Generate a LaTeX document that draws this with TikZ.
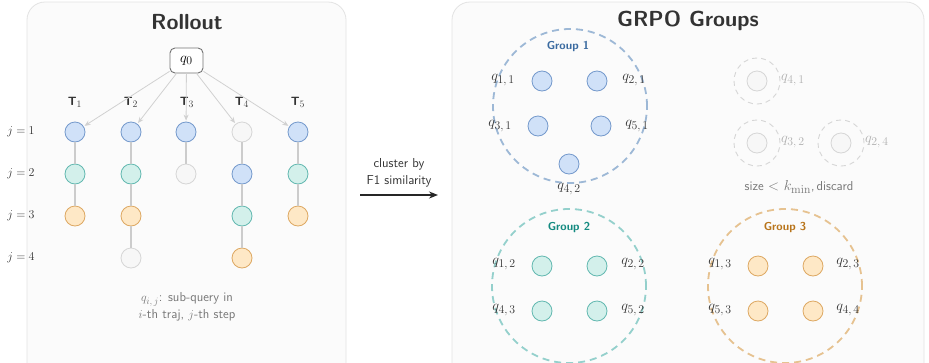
\documentclass[tikz,border=0pt]{standalone}
\usetikzlibrary{arrows.meta}
\definecolor{bluef}{HTML}{D0E1F8}\definecolor{bluel}{HTML}{7499CC}
\definecolor{tealf}{HTML}{D3F0EB}\definecolor{teall}{HTML}{62B8B0}
\definecolor{orf}{HTML}{FEE8C6}\definecolor{orl}{HTML}{DDA862}
\definecolor{grf}{HTML}{F7F7F7}\definecolor{grl}{HTML}{D6D6D6}
\definecolor{panelf}{HTML}{FBFBFB}\definecolor{panell}{HTML}{E3E3E3}
\definecolor{gonec}{HTML}{9DB8D6}\definecolor{gonet}{HTML}{3A6AA0}
\definecolor{gtwoc}{HTML}{94D0CC}\definecolor{gtwot}{HTML}{138A80}
\definecolor{gthreec}{HTML}{E6C290}\definecolor{gthreet}{HTML}{B8741A}
\definecolor{txt}{HTML}{333333}\definecolor{soft}{HTML}{777777}
\definecolor{conn}{HTML}{CCCCCC}\definecolor{ghost}{HTML}{B0B0B0}
\newcommand{\bsub}[2]{#1_{\mbox{\scalebox{0.82}{$#2$}}}}
\tikzset{
  sq/.style={circle,minimum size=20pt,inner sep=0pt,line width=0.8pt},
  bq/.style={sq,fill=bluef,draw=bluel},
  tq/.style={sq,fill=tealf,draw=teall},
  oq/.style={sq,fill=orf,draw=orl},
  gq/.style={sq,fill=grf,draw=grl},
  panel/.style={draw=panell,fill=panelf,rounded corners=18pt,line width=0.8pt},
  ttl/.style={font=\sffamily\bfseries\fontsize{21.8}{26}\selectfont,text=txt},
  qlab/.style={font=\fontsize{14.5}{16}\selectfont,text=txt,inner sep=1pt},
  glab/.style={font=\fontsize{14.5}{16}\selectfont,text=ghost,inner sep=1pt},
  jlab/.style={font=\fontsize{12}{14}\selectfont,text=txt},
  tlab/.style={font=\sffamily\bfseries\fontsize{12}{14}\selectfont,text=txt},
  vline/.style={draw=conn,line width=1.1pt},
  farrow/.style={draw=conn!90!white,line width=0.8pt,-{Stealth[length=6pt,width=5pt]}},
  grp/.style={circle,line width=1.8pt,minimum size=154pt,inner sep=0pt,dash pattern=on 7pt off 5pt},
  gname/.style={font=\sffamily\bfseries\fontsize{11.5}{13}\selectfont},
  small/.style={font=\sffamily\fontsize{13}{16.5}\selectfont,align=center},
  lone/.style={circle,draw=grl,line width=0.9pt,minimum size=46pt,inner sep=0pt,dash pattern=on 5pt off 4pt},
}
\begin{document}
\begin{tikzpicture}[x=1pt,y=-1pt]
\clip (0,0) rectangle (929,362);
\fill[white] (0,0) rectangle (929,362);
% panels
\draw[panel] (27,2) rectangle (346,420);
\draw[panel] (452,2) rectangle (924,420);
\node[ttl] (tr) at (187,22) {Rollout};
\node[ttl] (tg) at (688,21) {GRPO Groups};
% q0
\node[draw=black!55,line width=0.9pt,rounded corners=5pt,fill=white,minimum width=33pt,minimum height=25pt,inner sep=0pt,font=\fontsize{15}{16}\selectfont] (q0) at (186.5,60.5) {$\bsub{q}{0}$};
% trajectory labels
\foreach \i/\x in {1/75,2/131,3/187,4/242,5/298}{
  \node[tlab] (T\i) at (\x,102) {T$\bsub{}{\i}$};
}
\foreach \k/\y in {1/132,2/174,3/216,4/258}{
  \node[jlab] (j\k) at (21,\y) {$j=\k$};
}
% column 1
\node[bq] (a1) at (75,132) {};
\node[tq] (a2) at (75,174) {};
\node[oq] (a3) at (75,216) {};
% column 2
\node[bq] (b1) at (131,132) {};
\node[tq] (b2) at (131,174) {};
\node[oq] (b3) at (131,216) {};
\node[gq] (b4) at (131,258) {};
% column 3
\node[bq] (c1) at (186,132) {};
\node[gq] (c2) at (186,174) {};
% column 4
\node[gq] (d1) at (242,132) {};
\node[bq] (d2) at (242,174) {};
\node[tq] (d3) at (242,216) {};
\node[oq] (d4) at (242,258) {};
% column 5
\node[bq] (e1) at (298,132) {};
\node[tq] (e2) at (298,174) {};
\node[oq] (e3) at (298,216) {};
\draw[vline] (a1) -- (a2); \draw[vline] (a2) -- (a3);
\draw[vline] (b1) -- (b2); \draw[vline] (b2) -- (b3); \draw[vline] (b3) -- (b4);
\draw[vline] (c1) -- (c2);
\draw[vline] (d1) -- (d2); \draw[vline] (d2) -- (d3); \draw[vline] (d3) -- (d4);
\draw[vline] (e1) -- (e2); \draw[vline] (e2) -- (e3);
\foreach \n in {a1,b1,c1,d1,e1}{
  \draw[farrow,shorten >=1pt] (q0) -- (\n);
}
\node[small,text=soft] (cap) at (187,307) {$\bsub{q}{i,j}$: sub-query in\\$i$-th traj, $j$-th step};
% middle arrow
\node[small,text=txt] (clu) at (399,173) {cluster by\\F1 similarity};
\coordinate (ms) at (360,195);
\coordinate (me) at (438,195);
\draw[line width=1.3pt,black!85,-{Stealth[length=9pt,width=7pt]}] (ms) -- (me);
% Group 1
\node[grp,draw=gonec] (g1) at (570,106) {};
\node[gname,text=gonet] (g1n) at (568,46) {Group 1};
\node[bq] (p11) at (542,81) {};
\node[bq] (p21) at (597,81) {};
\node[bq] (p31) at (538,126) {};
\node[bq] (p51) at (601,126) {};
\node[bq] (p42) at (569,164) {};
\node[qlab] (l11) at (503,80) {$\bsub{q}{1,1}$};
\node[qlab] (l21) at (634,80) {$\bsub{q}{2,1}$};
\node[qlab] (l31) at (500,126) {$\bsub{q}{3,1}$};
\node[qlab] (l51) at (637,126) {$\bsub{q}{5,1}$};
\node[qlab] (l42) at (569,189) {$\bsub{q}{4,2}$};
% discarded singletons
\node[lone] (s1) at (757,81) {};
\node[gq] (s1c) at (757,81) {};
\node[lone] (s2) at (757,143) {};
\node[gq] (s2c) at (757,143) {};
\node[lone] (s3) at (841,143) {};
\node[gq] (s3c) at (841,143) {};
\node[glab,anchor=west] (l41) at (780,80) {$\bsub{q}{4,1}$};
\node[glab,anchor=west] (l32) at (780,142) {$\bsub{q}{3,2}$};
\node[glab,anchor=west] (l24) at (864,142) {$\bsub{q}{2,4}$};
\node[small,text=soft,font=\sffamily\fontsize{13}{16.5}\selectfont] (disc) at (799,187) {size\,\,{\fontsize{15}{16}\selectfont$<$ $\bsub{k}{\min}$},\,discard};
% Group 2
\node[grp,draw=gtwoc] (g2) at (569,286) {};
\node[gname,text=gtwot] (g2n) at (569,227) {Group 2};
\node[tq] (r12) at (542,266) {};
\node[tq] (r22) at (597,266) {};
\node[tq] (r43) at (542,311) {};
\node[tq] (r52) at (597,311) {};
\node[qlab] (l12) at (504,264) {$\bsub{q}{1,2}$};
\node[qlab] (l22) at (633,264) {$\bsub{q}{2,2}$};
\node[qlab] (l43) at (504,310) {$\bsub{q}{4,3}$};
\node[qlab] (l52) at (633,310) {$\bsub{q}{5,2}$};
% Group 3
\node[grp,draw=gthreec] (g3) at (785,286) {};
\node[gname,text=gthreet] (g3n) at (785,227) {Group 3};
\node[oq] (u13) at (758,266) {};
\node[oq] (u23) at (813,266) {};
\node[oq] (u53) at (758,311) {};
\node[oq] (u44) at (813,311) {};
\node[qlab] (l13) at (720,264) {$\bsub{q}{1,3}$};
\node[qlab] (l23) at (848,264) {$\bsub{q}{2,3}$};
\node[qlab] (l53) at (720,310) {$\bsub{q}{5,3}$};
\node[qlab] (l44) at (848,310) {$\bsub{q}{4,4}$};
\end{tikzpicture}
\end{document}
